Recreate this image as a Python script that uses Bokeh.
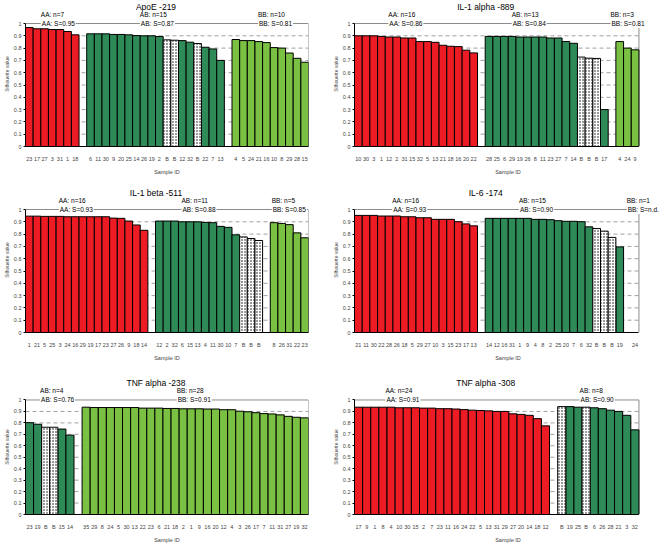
from bokeh.plotting import figure
from bokeh.layouts import column, row
from bokeh.models import FixedTicker, Label, Range1d, NumeralTickFormatter
from bokeh.embed import file_html
from bokeh.resources import INLINE

# ---------------- data ----------------
APOE_TITLE = "ApoE -219"
APOE_AA_IDS = ["23", "17", "27", "3", "31", "1", "18"]
APOE_AA_VALS = [0.967, 0.957, 0.957, 0.951, 0.951, 0.935, 0.908]
APOE_AB_IDS = ["6", "11", "30", "9", "20", "25", "14", "26", "19", "2", "B", "B", "12", "32", "B", "22", "7", "13"]
APOE_AB_VALS = [0.916, 0.916, 0.916, 0.911, 0.911, 0.908, 0.902, 0.900, 0.900, 0.894, 0.867, 0.864, 0.861, 0.848, 0.837, 0.807, 0.793, 0.700]
APOE_BB_IDS = ["4", "5", "24", "21", "16", "10", "8", "29", "28", "15"]
APOE_BB_VALS = [0.870, 0.861, 0.861, 0.853, 0.845, 0.804, 0.800, 0.760, 0.717, 0.685]
APOE_SUMMARY = [("AA", "7", "0.95"), ("AB", "15", "0.87"), ("BB", "10", "0.81")]

IL1A_TITLE = "IL-1 alpha -889"
IL1A_AA_IDS = ["10", "30", "3", "1", "12", "2", "31", "15", "32", "5", "13", "21", "18", "16", "20", "22"]
IL1A_AA_VALS = [0.900, 0.900, 0.900, 0.895, 0.890, 0.890, 0.882, 0.882, 0.853, 0.853, 0.847, 0.823, 0.815, 0.812, 0.783, 0.761]
IL1A_AB_IDS = ["28", "25", "6", "29", "19", "26", "8", "11", "23", "27", "7", "14", "B", "B", "B", "17"]
IL1A_AB_VALS = [0.895, 0.895, 0.895, 0.895, 0.890, 0.890, 0.890, 0.890, 0.882, 0.882, 0.853, 0.839, 0.727, 0.718, 0.716, 0.300]
IL1A_BB_IDS = ["4", "24", "9"]
IL1A_BB_VALS = [0.853, 0.800, 0.786]
IL1A_SUMMARY = [("AA", "16", "0.86"), ("AB", "13", "0.84"), ("BB", "3", "0.81")]

IL1B_TITLE = "IL-1 beta -511"
IL1B_AA_IDS = ["1", "21", "5", "25", "3", "24", "16", "29", "19", "17", "23", "27", "26", "9", "18", "14"]
IL1B_AA_VALS = [0.946, 0.946, 0.944, 0.944, 0.944, 0.941, 0.941, 0.941, 0.941, 0.941, 0.941, 0.930, 0.928, 0.906, 0.874, 0.831]
IL1B_AB_IDS = ["12", "2", "32", "6", "15", "13", "4", "11", "30", "10", "7", "B", "B", "B"]
IL1B_AB_VALS = [0.906, 0.906, 0.906, 0.900, 0.900, 0.900, 0.895, 0.893, 0.863, 0.855, 0.794, 0.777, 0.764, 0.748]
IL1B_BB_IDS = ["8", "26", "31", "22", "23"]
IL1B_BB_VALS = [0.893, 0.887, 0.877, 0.810, 0.770]
IL1B_SUMMARY = [("AA", "16", "0.93"), ("AB", "11", "0.88"), ("BB", "5", "0.85")]

IL6_TITLE = "IL-6 -174"
IL6_AA_IDS = ["21", "11", "30", "22", "28", "26", "18", "5", "29", "27", "10", "3", "15", "23", "17", "13"]
IL6_AA_VALS = [0.952, 0.952, 0.952, 0.947, 0.947, 0.947, 0.941, 0.941, 0.933, 0.933, 0.920, 0.920, 0.920, 0.901, 0.883, 0.867]
IL6_AB_IDS = ["14", "12", "16", "31", "1", "9", "4", "8", "2", "25", "20", "7", "6", "32", "B", "B", "B", "19"]
IL6_AB_VALS = [0.928, 0.928, 0.928, 0.928, 0.928, 0.928, 0.920, 0.920, 0.917, 0.909, 0.904, 0.904, 0.901, 0.859, 0.845, 0.824, 0.773, 0.696]
IL6_BB_IDS = ["24"]
IL6_BB_VALS = [None]
IL6_SUMMARY = [("AA", "16", "0.93"), ("AB", "15", "0.90"), ("BB", "1", "n.d.")]

TNF238_TITLE = "TNF alpha -238"
TNF238_AB_IDS = ["23", "19", "B", "B", "15", "14"]
TNF238_AB_VALS = [0.802, 0.788, 0.762, 0.762, 0.746, 0.693]
TNF238_BB_IDS = ["35", "29", "8", "24", "5", "30", "13", "22", "23", "6", "21", "18", "2", "1",
                 "9", "16", "20", "12", "4", "3", "26", "17", "7", "11", "31", "27", "19", "32"]
TNF238_BB_VALS = [0.937, 0.934, 0.934, 0.934, 0.934, 0.934, 0.934, 0.929, 0.929, 0.929, 0.926, 0.926, 0.923, 0.923,
                  0.923, 0.921, 0.921, 0.915, 0.915, 0.902, 0.897, 0.889, 0.881, 0.878, 0.870, 0.857, 0.849, 0.844]
TNF238_SUMMARY = [("AB", "4", "0.76"), ("BB", "28", "0.91")]

TNF308_TITLE = "TNF alpha -308"
TNF308_AA_IDS = ["17", "9", "1", "8", "4", "10", "30", "15", "2", "7", "23", "11",
                 "16", "24", "22", "5", "13", "31", "29", "27", "20", "14", "18", "12"]
TNF308_AA_VALS = [0.937, 0.937, 0.937, 0.937, 0.937, 0.932, 0.932, 0.932, 0.929, 0.929, 0.924, 0.924,
                  0.921, 0.916, 0.911, 0.908, 0.905, 0.900, 0.900, 0.879, 0.874, 0.866, 0.837, 0.774]
TNF308_AB_IDS = ["B", "19", "25", "B", "6", "26", "28", "21", "3", "32"]
TNF308_AB_VALS = [0.942, 0.942, 0.937, 0.937, 0.932, 0.924, 0.911, 0.900, 0.866, 0.739]
TNF308_SUMMARY = [("AA", "24", "0.91"), ("AB", "8", "0.90")]

Y_TICKS = [0, 0.1, 0.2, 0.3, 0.4, 0.5, 0.6, 0.7, 0.8, 0.9, 1.0]
GRID_LEVELS = [0.1, 0.2, 0.3, 0.4, 0.5, 0.6, 0.7, 0.8, 0.9]

# ---------------- style ----------------
COLORS = {"AA": "#ed1c24", "AB": "#2e8b57", "BB": "#7ac143"}
FONT = "Liberation Sans"
UNIT_PX = 123      # pixels for the 0..1 value span
TOP_EXT_PX = 22    # room above value 1 for the titles / group notes


def make_panel(title, groups, summary, label_x, value_w, ext_px, b_top, b_bottom, b_left, b_right):
    xs, tops, cols, dx, dtop = [], [], [], [], []
    ticks, overrides = [], {}
    pos = 0
    for (name, ids, vals) in groups:
        for sid, v in zip(ids, vals):
            ticks.append(pos)
            overrides[pos] = sid
            if v is not None:
                if sid == "B":
                    dx.append(pos)
                    dtop.append(v)
                else:
                    xs.append(pos)
                    tops.append(v)
                    cols.append(COLORS[name])
            pos += 1
        pos += 1
    n_slots = pos - 1
    x_lo, x_hi = -0.5, n_slots - 0.5
    ext_slots = ext_px * n_slots / value_w
    y_top = 1 + TOP_EXT_PX / UNIT_PX

    p = figure(width=b_left + value_w + ext_px + b_right,
               height=b_top + TOP_EXT_PX + UNIT_PX + b_bottom,
               output_backend="svg", toolbar_location=None,
               x_range=Range1d(x_lo, x_hi + ext_slots), y_range=Range1d(0, y_top),
               min_border_top=b_top, min_border_bottom=b_bottom,
               min_border_left=b_left, min_border_right=b_right)
    p.outline_line_color = None
    p.xgrid.grid_line_color = None
    p.ygrid.grid_line_color = None

    # dashed value guides
    p.segment(x0=[x_lo] * len(GRID_LEVELS), y0=GRID_LEVELS, x1=[x_hi] * len(GRID_LEVELS), y1=GRID_LEVELS,
              line_color="#a0a0a0", line_dash="4 3", line_width=1)
    # frame: top and right edges of the value area
    p.segment(x0=[x_lo, x_hi], y0=[1, 0], x1=[x_hi, x_hi], y1=[1, 1], line_color="#8c8c8c", line_width=1)

    p.vbar(x=xs, top=tops, width=1.0, fill_color=cols, line_color="black", line_width=1)
    if dx:
        p.vbar(x=dx, top=dtop, width=1.0, fill_color="white", line_color="black", line_width=1,
               hatch_pattern="dot", hatch_color="black", hatch_scale=3, hatch_weight=1)

    # axes
    p.xaxis.bounds = (x_lo, x_hi)
    p.xaxis.ticker = FixedTicker(ticks=ticks)
    p.xaxis.major_label_overrides = overrides
    p.xaxis.major_tick_line_color = None
    p.xaxis.minor_tick_line_color = None
    p.xaxis.major_label_text_font_size = "5.5px"
    p.xaxis.major_label_text_font = FONT
    p.xaxis.major_label_standoff = 3
    p.xaxis.axis_label = "Sample ID"
    p.xaxis.axis_label_text_font_size = "5.5px"
    p.xaxis.axis_label_text_font = FONT
    p.xaxis.axis_label_text_font_style = "normal"
    p.xaxis.axis_label_standoff = 4
    p.xaxis.axis_line_color = "black"

    p.yaxis.bounds = (0, 1)
    p.yaxis.ticker = FixedTicker(ticks=Y_TICKS)
    p.yaxis.formatter = NumeralTickFormatter(format="0.[0]")
    p.yaxis.major_tick_out = 2
    p.yaxis.major_tick_in = 0
    p.yaxis.minor_tick_line_color = None
    p.yaxis.major_label_text_font_size = "5.5px"
    p.yaxis.major_label_text_font = FONT
    p.yaxis.major_label_standoff = 2
    p.yaxis.axis_label = "Silhouette value"
    p.yaxis.axis_label_text_font_size = "5px"
    p.yaxis.axis_label_text_font = FONT
    p.yaxis.axis_label_text_font_style = "normal"
    p.yaxis.axis_label_standoff = 1
    p.yaxis.axis_line_color = "black"

    # title
    p.add_layout(Label(x=(n_slots - 1) / 2, y=1.0, x_offset=-11, y_offset=17, text=title,
                       text_align="center", text_baseline="middle",
                       text_font=FONT, text_font_size="8.5px", text_color="black"))
    # group annotations
    for (gname, n, s), lx in zip(summary, label_x):
        p.add_layout(Label(x=lx, y=1.0, y_offset=9, text=f"{gname}: n={n}",
                           text_align="left", text_baseline="middle",
                           text_font=FONT, text_font_size="6.5px", text_color="black"))
        p.add_layout(Label(x=lx, y=1.0, text=f"{gname}: S={s}",
                           text_align="left", text_baseline="middle",
                           text_font=FONT, text_font_size="6.5px", text_color="black",
                           background_fill_color="white", padding=1))
    return p


LEFT_W, RIGHT_W, RIGHT_EXT = 289, 290, 23

p1 = make_panel(APOE_TITLE,
                [("AA", APOE_AA_IDS, APOE_AA_VALS), ("AB", APOE_AB_IDS, APOE_AB_VALS), ("BB", APOE_BB_IDS, APOE_BB_VALS)],
                APOE_SUMMARY, [1.5, 14.45, 29.9], LEFT_W, 0, 1, 41, 19, 21)
p2 = make_panel(IL1A_TITLE,
                [("AA", IL1A_AA_IDS, IL1A_AA_VALS), ("AB", IL1A_AB_IDS, IL1A_AB_VALS), ("BB", IL1A_BB_IDS, IL1A_BB_VALS)],
                IL1A_SUMMARY, [3.9, 19.95, 32.8], RIGHT_W, RIGHT_EXT, 1, 41, 19, 0)
p3 = make_panel(IL1B_TITLE,
                [("AA", IL1B_AA_IDS, IL1B_AA_VALS), ("AB", IL1B_AB_IDS, IL1B_AB_VALS), ("BB", IL1B_BB_IDS, IL1B_BB_VALS)],
                IL1B_SUMMARY, [3.85, 19.9, 31.7], LEFT_W, 0, 0, 47, 19, 21)
p4 = make_panel(IL6_TITLE,
                [("AA", IL6_AA_IDS, IL6_AA_VALS), ("AB", IL6_AB_IDS, IL6_AB_VALS), ("BB", IL6_BB_IDS, IL6_BB_VALS)],
                IL6_SUMMARY, [4.4, 20.9, 34.9], RIGHT_W, RIGHT_EXT, 0, 47, 19, 0)
p5 = make_panel(TNF238_TITLE,
                [("AB", TNF238_AB_IDS, TNF238_AB_VALS), ("BB", TNF238_BB_IDS, TNF238_BB_VALS)],
                TNF238_SUMMARY, [1.3, 18.2], LEFT_W, 0, 0, 21, 19, 21)
p6 = make_panel(TNF308_TITLE,
                [("AA", TNF308_AA_IDS, TNF308_AA_VALS), ("AB", TNF308_AB_IDS, TNF308_AB_VALS)],
                TNF308_SUMMARY, [3.3, 27.2], RIGHT_W, RIGHT_EXT, 0, 21, 19, 0)

layout = column(row(p1, p2), row(p3, p4), row(p5, p6))

open("out.html", "w").write(file_html(layout, INLINE))
